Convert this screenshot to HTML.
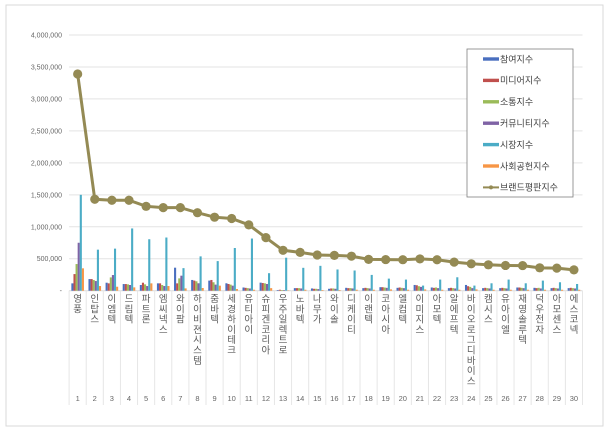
<!DOCTYPE html>
<html><head><meta charset="utf-8"><style>
html,body{margin:0;padding:0;background:#fff;}
svg{display:block;font-family:"Liberation Sans","Noto Sans CJK KR",sans-serif;}
</style></head><body>
<svg id="chart" width="615" height="432" xmlns="http://www.w3.org/2000/svg">
<rect x="6" y="5" width="597" height="421" fill="#fff" stroke="#d9d9d9"/>
<g id="grid"></g><g id="bars"></g><g id="line"></g><g id="xlabels"></g>
<g id="legend"></g>
</svg>
<script>
const categories=["영풍","인탑스","이엠텍","드림텍","파트론","엠씨넥스","와이팜","하이비젼시스템","줌바텍","세경하이테크","유티아이","슈피겐코리아","우주일렉트로","노바텍","나무가","와이솔","디케이티","이랜텍","코아시아","엘컴텍","이미지스","아모텍","알에프텍","바이오로그디바이스","캠시스","유아이엘","재영솔루텍","덕우전자","아모센스","에스코넥"];
const seriesNames=["참여지수","미디어지수","소통지수","커뮤니티지수","시장지수","사회공헌지수"];
const participation=[115000,182000,125000,104000,89000,115000,360000,168000,158000,116000,50000,126000,10000,40000,35000,30000,45000,40000,55000,45000,90000,50000,40000,90000,40000,40000,50000,45000,40000,40000];
const media=[260000,182000,115000,104000,125000,115000,115000,158000,168000,105000,45000,120000,15000,40000,30000,35000,40000,45000,55000,50000,85000,45000,45000,70000,45000,45000,50000,40000,45000,45000];
const communication=[417000,167000,208000,99000,99000,89000,193000,147000,132000,95000,40000,115000,10000,40000,30000,35000,40000,40000,50000,45000,70000,50000,40000,60000,40000,40000,45000,45000,40000,40000];
const community=[750000,151000,245000,89000,73000,73000,235000,116000,95000,79000,35000,105000,10000,35000,25000,30000,35000,35000,45000,40000,60000,40000,35000,40000,35000,35000,40000,35000,35000,35000];
const market=[1500000,642000,658000,974000,805000,832000,353000,537000,463000,668000,816000,274000,516000,358000,389000,332000,316000,247000,189000,174000,80000,174000,210000,80000,116000,174000,116000,158000,132000,105000];
const social=[350000,73000,62000,52000,115000,73000,36000,42000,79000,26000,15000,40000,5000,15000,10000,10000,15000,15000,20000,15000,20000,15000,15000,20000,15000,15000,15000,15000,15000,15000];
const brandIndex=[3390000,1430000,1415000,1415000,1320000,1300000,1300000,1220000,1150000,1130000,1030000,830000,632000,600000,558000,553000,540000,490000,487000,485000,497000,484000,447000,421000,405000,395000,393000,358000,353000,326000];
const yTicks=[0,500000,1000000,1500000,2000000,2500000,3000000,3500000,4000000];
const yTickLabels=["-","500,000","1,000,000","1,500,000","2,000,000","2,500,000","3,000,000","3,500,000","4,000,000"];
const seriesColors=["#4a6fbf","#c0504d","#9bbb59","#7f63a5","#4bacc6","#f79646"];
const NS="http://www.w3.org/2000/svg";
const X0=69.1,X1=582.5,Y0=290.7,Y1=35;
const step=(X1-X0)/categories.length;
function xc(i){return X0+step*(i+0.5);}
function y(v){return Y0-(v/4000000)*(Y0-Y1);}
function mk(tag,attrs,parent){const e=document.createElementNS(NS,tag);for(const k in attrs)e.setAttribute(k,attrs[k]);parent.appendChild(e);return e;}
const grid=document.getElementById('grid');
yTicks.forEach((t,i)=>{
 if(t>0){const l=mk('line',{x1:X0,x2:X1,y1:y(t),y2:y(t),stroke:'#e3e3e3','stroke-width':1},grid);
 
 }
 const tx=mk('text',{x:62,y:y(t)+2.5,'text-anchor':'end','font-size':7,fill:'#666'},grid);
 tx.textContent=yTickLabels[i];
 
 
});
const base=mk('line',{x1:X0,x2:X1,y1:Y0,y2:Y0,stroke:'#d9d9d9'},grid);


for(let i=0;i<=categories.length;i++){
 const l=mk('line',{x1:X0+step*i,x2:X0+step*i,y1:Y0,y2:405,stroke:'#e6e6e6'},grid);
 
 
}
const bars=document.getElementById('bars');
const allSeries=[participation,media,communication,community,market,social];
const bw=2.1;
allSeries.forEach((s,si)=>{
 s.forEach((v,i)=>{
  const x=xc(i)-3*bw+si*bw;
  const r=mk('rect',{x:x,y:y(v),width:bw,height:Y0-y(v),fill:seriesColors[si]},bars);
  
  
 });
});
const lg=document.getElementById('line');
const pts=brandIndex.map((v,i)=>xc(i)+','+y(v)).join(' ');
const pl=mk('polyline',{points:pts,fill:'none',stroke:'#948a54','stroke-width':3},lg);


brandIndex.forEach((v,i)=>{
 const c=mk('circle',{cx:xc(i),cy:y(v),r:4.6,fill:'#948a54'},lg);
 
 
});
const xl=document.getElementById('xlabels');
categories.forEach((c,i)=>{
 const t=mk('text',{x:xc(i),y:302,'text-anchor':'middle','font-size':9.5,fill:'#595959'},xl);
 
 
 [...c].forEach((ch,k)=>{const s=mk('tspan',{x:xc(i),dy:k===0?0:10.3},t);s.textContent=ch;});
 const n=mk('text',{x:xc(i),y:401,'text-anchor':'middle','font-size':7.5,fill:'#666'},xl);
 n.textContent=String(i+1);
 
 
});
const leg=document.getElementById('legend');
mk('rect',{x:467,y:49,width:106,height:148,fill:'#fff',stroke:'#7f7f7f','stroke-width':0.8},leg);
const legNames=seriesNames.concat(["브랜드평판지수"]);
legNames.forEach((nm,i)=>{
 const yy=59+i*21.4;
 if(i<6){const r=mk('rect',{x:483,y:yy-1.7,width:16,height:3.4,fill:seriesColors[i]},leg);
  
  }
 else{mk('line',{x1:483,x2:499,y1:yy,y2:yy,stroke:'#948a54','stroke-width':2},leg);
  const c=mk('circle',{cx:491,cy:yy,r:2,fill:'#948a54'},leg);
  
  }
 const t=mk('text',{x:500,y:yy+3.3,'font-size':9,fill:'#404040'},leg);
 t.textContent=nm;
 
 
});
</script>
</body></html>
